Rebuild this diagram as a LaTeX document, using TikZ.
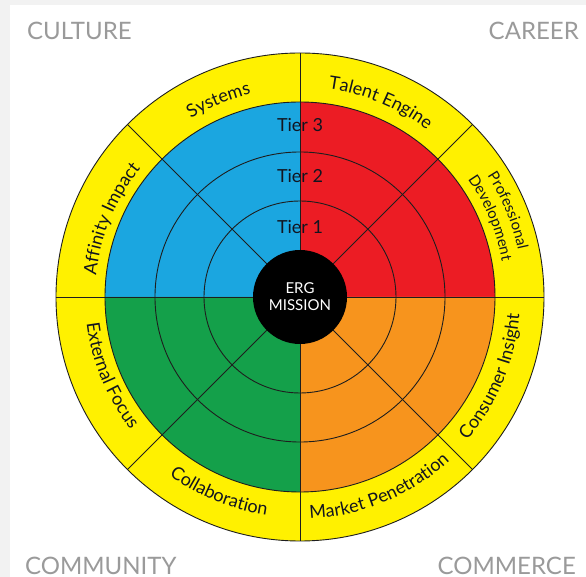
\documentclass[tikz,border=0pt]{standalone}
\usepackage{fontspec}
\setmainfont{Lato}
\usepackage{xcolor}
\usetikzlibrary{decorations.text}

\definecolor{ringyellow}{HTML}{FFF100}
\definecolor{tierblue}{HTML}{1BA6E0}
\definecolor{tierred}{HTML}{EC1C24}
\definecolor{tiergreen}{HTML}{14A04A}
\definecolor{tierorange}{HTML}{F7941D}
\definecolor{linedark}{HTML}{1E1E1E}
\definecolor{labeltext}{HTML}{121520}
\definecolor{cornergray}{HTML}{9A9A9A}
\definecolor{cardgray}{HTML}{F2F2F2}

\begin{document}
\begin{tikzpicture}[x=1pt,y=1pt,
      ringline/.style={draw=linedark,line width=0.9pt},
      tierlabel/.style={font=\fontsize{18}{18}\selectfont,text=labeltext,inner sep=0pt},
      mission/.style={circle,fill=black,minimum size=94pt,inner sep=0pt,text=white,align=center,font=\fontsize{15}{17}\selectfont},
      corner/.style={text=cornergray,font=\fontsize{24}{24}\selectfont,inner sep=0pt,text depth=0pt}]
    % page and card
    \useasboundingbox (-300,-280) rectangle (286,297);
    \fill[cardgray] (-300,-280) rectangle (286,297);
    \fill[white] (-290,-280) rectangle (286,292);
    % outer ring and the four quarters
    \fill[ringyellow] (0,0) circle (244);
    \foreach \a/\c in {0/tierred,90/tierblue,180/tiergreen,270/tierorange} {
      \fill[\c] (0,0) -- (\a:195) arc[start angle=\a,end angle=\a+90,radius=195] -- cycle;
    }
    \foreach \r in {96,145,195,244} {
      \draw[ringline] (0,0) circle (\r);
    }
    \draw[ringline] (0,-244) -- (0,244);
    \draw[ringline] (-244,0) -- (244,0);
    \foreach \a in {45,135,225,315} {
      \draw[ringline] (\a:47) -- (\a:244);
    }
    \node[mission] (mission) at (0,0) {ERG\\MISSION};
    \node[tierlabel] (tier1) at (0,70) {Tier 1};
    \node[tierlabel] (tier2) at (0,121) {Tier 2};
    \node[tierlabel] (tier3) at (0,172) {Tier 3};
    % labels round the yellow ring
    \foreach \a/\r/\t in {90/209/Systems,45/210/Talent Engine,135/205/Affinity Impact} {
      \path[decorate,decoration={text along path,text align=center,
          text={|\fontsize{18}{18}\selectfont\color{labeltext}|\t}}]
        (\a+45:\r) arc[start angle=\a+45,end angle=\a,radius=\r];
    }
    \foreach \a/\r/\t in {180/215/External Focus,225/221/Collaboration,270/222/Market Penetration,315/220/Consumer Insight} {
      \path[decorate,decoration={text along path,text align=center,
          text={|\fontsize{18}{18}\selectfont\color{labeltext}|\t}}]
        (\a:\r) arc[start angle=\a,end angle=\a+45,radius=\r];
    }
    \foreach \r/\t in {223/Professional,205/Development} {
      \path[decorate,decoration={text along path,text align=center,
          text={|\fontsize{15}{15}\selectfont\color{labeltext}|\t}}]
        (45:\r) arc[start angle=45,end angle=0,radius=\r];
    }
    % corner captions
    \node[corner,anchor=base west] (culture) at (-273,257) {CULTURE};
    \node[corner,anchor=base east] (career) at (279,257) {CAREER};
    \node[corner,anchor=base west] (community) at (-275,-278) {COMMUNITY};
    \node[corner,anchor=base east] (commerce) at (276,-278) {COMMERCE};
  \end{tikzpicture}
\end{document}
